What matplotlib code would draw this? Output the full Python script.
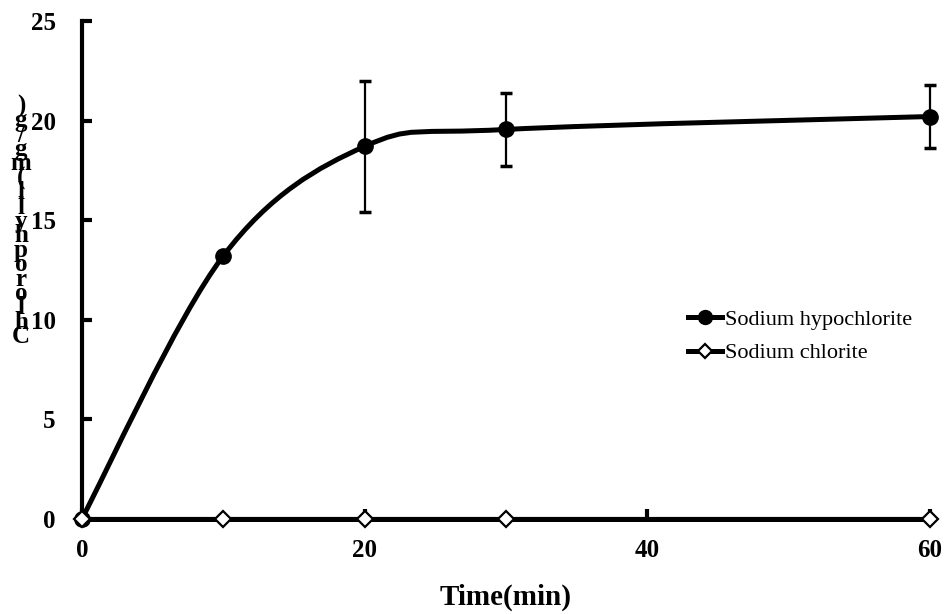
import matplotlib
matplotlib.use('Agg')
import matplotlib.pyplot as plt
import numpy as np
from matplotlib.path import Path
from matplotlib.patches import PathPatch
from matplotlib.lines import Line2D

plt.rcParams['font.family'] = ['Liberation Serif', 'DejaVu Serif']

time_min = [0, 10, 20, 30, 60]
hypochlorite = [0.0, 13.2, 18.7, 19.55, 20.2]
hypochlorite_err = [0.0, 0.0, 3.3, 1.85, 1.6]
chlorite = [0.0, 0.0, 0.0, 0.0, 0.0]

x_ticks = [0, 20, 40, 60]
y_ticks = [0, 5, 10, 15, 20, 25]
y_label = 'Chlorophyll(mg/g)'
x_label = 'Time(min)'
series_names = ['Sodium hypochlorite', 'Sodium chlorite']


def smooth_path(xs, ys):
    # spreadsheet-style smoothed line: cubic Bezier segments with
    # Catmull-Rom control points (1/6 of neighbour chord)
    pts = np.column_stack([xs, ys]).astype(float)
    n = len(pts)
    verts = [pts[0]]
    codes = [Path.MOVETO]
    for i in range(n - 1):
        p_prev = pts[i - 1] if i > 0 else pts[i]
        p_next = pts[i + 2] if i + 2 < n else pts[i + 1]
        c1 = pts[i] + (pts[i + 1] - p_prev) / 6.0
        c2 = pts[i + 1] - (p_next - pts[i]) / 6.0
        verts += [c1, c2, pts[i + 1]]
        codes += [Path.CURVE4] * 3
    return Path(verts, codes)


fig = plt.figure(figsize=(9.5, 6.14), dpi=100)
ax = fig.add_axes([0.0863, 0.1555, 0.8927, 0.8103])

ax.set_xlim(0, 60)
ax.set_ylim(0, 25)

# smoothed curve for sodium hypochlorite
ax.add_patch(PathPatch(smooth_path(time_min, hypochlorite), facecolor='none',
                       edgecolor='black', lw=3.6, capstyle='round', zorder=3))
eb = ax.errorbar(time_min[2:], hypochlorite[2:], yerr=hypochlorite_err[2:], fmt='none',
                 ecolor='black', elinewidth=1.6, capsize=4.5, capthick=2.5, zorder=2)
for art in eb.lines[1] + eb.lines[2]:
    art.set_clip_on(False)
ax.plot(time_min, hypochlorite, linestyle='none', marker='o', ms=11,
        color='black', zorder=4, clip_on=False)

# sodium chlorite sits on the baseline
ax.plot(time_min, chlorite, color='black', lw=3.6, marker='D', ms=8,
        mfc='white', mec='black', mew=1.6, zorder=5, clip_on=False)

for side in ['top', 'right']:
    ax.spines[side].set_visible(False)
for side in ['left', 'bottom']:
    ax.spines[side].set_linewidth(3)

ax.set_xticks(x_ticks)
ax.set_yticks(y_ticks)
ax.tick_params(axis='both', direction='in', length=7, width=3,
               labelsize=18)
ax.tick_params(axis='y', pad=19)
ax.tick_params(axis='x', pad=15)
for lab in ax.get_xticklabels() + ax.get_yticklabels():
    lab.set_fontweight('bold')

ax.set_xlabel(x_label, fontsize=21, fontweight='bold', labelpad=15)

# y label as a column of upright characters read bottom to top
stacked = '\n'.join(reversed(y_label))
fig.text(0.022, 1 - 348 / 614, stacked, fontsize=18, fontweight='bold',
         ha='center', va='bottom', multialignment='center', linespacing=0.52)

handles = [
    Line2D([], [], color='black', lw=3.6, marker='o', ms=10),
    Line2D([], [], color='black', lw=3.6, marker='D', ms=7.5,
           mfc='white', mec='black', mew=1.6),
]
ax.legend(handles, series_names, loc='upper left',
          bbox_to_anchor=(688 / 950, 1 - 309 / 614), bbox_transform=fig.transFigure,
          frameon=False, fontsize=16, handlelength=1.55, handletextpad=0.1,
          labelspacing=0.6, borderpad=0, borderaxespad=0)

fig.savefig('out.png', dpi=100)
